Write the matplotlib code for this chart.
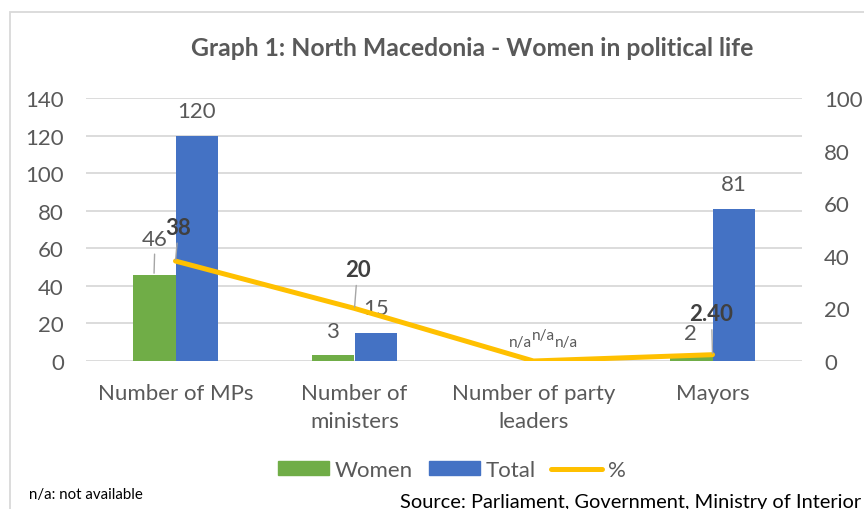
import numpy as np
import matplotlib.pyplot as plt
from matplotlib.patches import Patch, Rectangle
from matplotlib.lines import Line2D

plt.rcParams['font.family'] = ['Lato', 'DejaVu Sans']

# data
categories = ["Number of MPs", "Number of\nministers", "Number of party\nleaders", "Mayors"]
women = [46, 3, 0, 2]
total = [120, 15, 0, 81]
pct = [38, 20, 0, 2.4]
women_lbl = ["46", "3", "n/a", "2"]
total_lbl = ["120", "15", "n/a", "81"]
pct_lbl = ["38", "20", "n/a", "2.40"]

green = "#70AD47"
blue = "#4472C4"
yellow = "#FFC000"
txt = "#595959"
grid = "#D9D9D9"

fig = plt.figure(figsize=(8.64, 5.1), dpi=100)
ax = fig.add_axes([86/864, 1-362/510, (802-86)/864, (362-99)/510])
ax2 = ax.twinx()

x = np.arange(len(categories))
w = 0.24
ax.bar(x - w/2, women, w, color=green, zorder=2)
ax.bar(x + w/2, total, w, color=blue, zorder=2)
ax2.plot(x, pct, color=yellow, lw=3.6, solid_capstyle='round', zorder=3)

ax.set_xlim(-0.5, 3.5)
ax.set_ylim(0, 140)
ax.set_yticks(range(0, 141, 20))
ax2.set_ylim(0, 100)
ax2.set_yticks(range(0, 101, 20))
ax.set_xticks(x)
ax.set_xticklabels(categories, fontsize=16, color=txt, linespacing=1.5)
ax.yaxis.grid(True, color=grid, lw=1.3, zorder=0)
ax.set_axisbelow(True)
for a in (ax, ax2):
    for s in a.spines.values():
        s.set_visible(False)
    a.tick_params(length=0, labelsize=16, labelcolor=txt)
ax.tick_params(axis='y', pad=16)
ax.tick_params(axis='x', pad=16)
ax2.tick_params(axis='y', pad=16)
ax2.set_zorder(ax.get_zorder() + 1)
ax2.patch.set_visible(False)

lead = dict(arrowstyle='-', color='#A6A6A6', lw=1, shrinkA=2, shrinkB=1)

def lab(axis, xv, yv, s, dx, dy, bold=False, size=16, leader=False):
    axis.annotate(s, xy=(xv, yv), xytext=(dx, dy), textcoords='offset pixels',
                  ha='center', va='center', fontsize=size, color=txt if not bold else "#404040",
                  fontweight='bold' if bold else 'normal',
                  arrowprops=lead if leader else None, zorder=5)

# bar labels
for i in range(len(categories)):
    if i == 2:
        continue
    if i == 0:
        lab(ax, x[i] - w/2, women[i], women_lbl[i], 1, 36, leader=True)
    else:
        lab(ax, x[i] - w/2, women[i], women_lbl[i], -1, 24)
    lab(ax, x[i] + w/2, total[i], total_lbl[i], 0, 25)

# n/a labels
lab(ax, x[2] - w/2, women[2], women_lbl[2], 8, 19, size=11)
lab(ax, x[2] + w/2, total[2], total_lbl[2], -12, 26, size=11)
lab(ax2, x[2], pct[2], pct_lbl[2], 33, 19, size=11)

# line labels
lab(ax2, x[0], pct[0], pct_lbl[0], 3, 34, bold=True, leader=True)
lab(ax2, x[1], pct[1], pct_lbl[1], 3, 39, bold=True, leader=True)
lab(ax2, x[3], pct[3], pct_lbl[3], -1, 41, bold=True, leader=True)

fig.text(472/864, 1-49/510, "Graph 1: North Macedonia - Women in political life",
         ha='center', va='center', fontsize=17.8, fontweight='bold', color=txt)

handles = [Patch(color=green, label="Women"), Patch(color=blue, label="Total"),
           Line2D([], [], color=yellow, lw=3.6, solid_capstyle='round', label="%")]
fig.legend(handles=handles, loc='center', bbox_to_anchor=(452/864, 1-471/510), ncol=3,
           frameon=False, fontsize=16, labelcolor=txt, handlelength=2.3,
           handleheight=0.55, handletextpad=0.25, columnspacing=0.7)

fig.text(29/864, 1-495/510, "n/a: not available", ha='left', va='center', fontsize=10.8, color="#000000")
fig.text(400/864, 1-503/510, "Source: Parliament, Government, Ministry of Interior",
         ha='left', va='center', fontsize=14.4, color="#000000")

fig.patches.append(Rectangle((10/864, -0.05), 1.2, 1.05 - 13/510, transform=fig.transFigure,
                             fill=False, edgecolor=grid, lw=1.3))

fig.savefig("out.png", dpi=100)
